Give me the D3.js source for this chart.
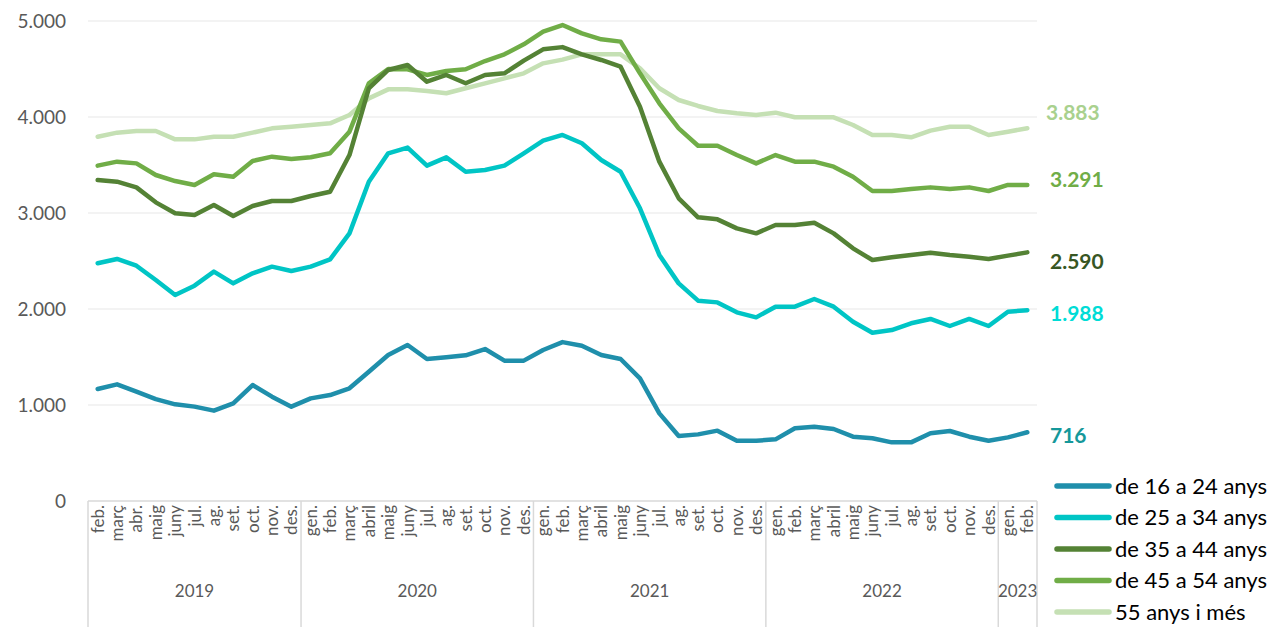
<!DOCTYPE html>
<html lang="ca">
<head>
<meta charset="UTF-8" />
<title>Atur per edats</title>
<script src="https://d3js.org/d3.v7.min.js"></script>
<style>
  body { margin: 0; background: #fff; font-family: Lato, "Open Sans", sans-serif; }
  svg { display: block; }
  .ytick { font-size: 19px; fill: #595959; }
  .month { font-size: 17px; fill: #595959; }
  .year { font-size: 17px; fill: #595959; }
  .endlab { font-size: 21px; font-weight: bold; }
  .legend text { font-size: 22px; fill: #000; }
</style>
</head>
<body>
<svg id="chart" width="1286" height="627"></svg>
<script>
// dades
const years = ["2019", "2020", "2021", "2022", "2023"];
const monthsFull = ["gen.", "feb.", "març", "abril", "maig", "juny", "jul.", "ag.", "set.", "oct.", "nov.", "des."];
const months2019 = ["feb.", "març", "abr.", "maig", "juny", "jul.", "ag.", "set.", "oct.", "nov.", "des."];
const months2023 = ["gen.", "feb."];
const yTicks = [0, 1000, 2000, 3000, 4000, 5000];

const seriesNames = ["de 16 a 24 anys", "de 25 a 34 anys", "de 35 a 44 anys", "de 45 a 54 anys", "55 anys i més"];

const s16_24 = [1167, 1215, 1139, 1062, 1007, 983, 941, 1017, 1208, 1087, 983, 1069,
  1104, 1174, 1347, 1521, 1625, 1479, 1497, 1518, 1583, 1462, 1462, 1573,
  1655, 1618, 1521, 1479, 1278, 913, 677, 694, 733, 628, 628, 642,
  757, 774, 750, 670, 653, 611, 611, 705, 729, 670, 628, 663, 716];
const s25_34 = [2476, 2521, 2451, 2302, 2146, 2243, 2389, 2267, 2372, 2441, 2396, 2441,
  2517, 2788, 3326, 3622, 3681, 3493, 3580, 3430, 3448, 3493, 3622, 3753,
  3813, 3726, 3552, 3430, 3049, 2563, 2267, 2087, 2069, 1965, 1913, 2024,
  2024, 2104, 2024, 1868, 1753, 1781, 1851, 1896, 1823, 1896, 1823, 1972, 1988];
const s35_44 = [3344, 3326, 3267, 3111, 2997, 2979, 3083, 2969, 3073, 3125, 3125, 3177,
  3222, 3604, 4299, 4490, 4542, 4368, 4438, 4351, 4438, 4455, 4587, 4705,
  4728, 4653, 4594, 4524, 4107, 3535, 3153, 2955, 2934, 2840, 2788, 2875,
  2875, 2899, 2788, 2632, 2510, 2538, 2563, 2587, 2563, 2545, 2521, 2556, 2590];
const s45_54 = [3493, 3535, 3517, 3396, 3333, 3292, 3403, 3378, 3542, 3587, 3563, 3580,
  3622, 3847, 4351, 4500, 4497, 4438, 4479, 4497, 4583, 4653, 4757, 4889,
  4958, 4871, 4809, 4785, 4455, 4143, 3882, 3701, 3701, 3604, 3517, 3604,
  3535, 3535, 3483, 3378, 3229, 3229, 3250, 3267, 3250, 3267, 3229, 3292, 3291];
const s55 = [3795, 3837, 3854, 3854, 3767, 3767, 3795, 3795, 3837, 3882, 3899, 3917,
  3934, 4021, 4194, 4288, 4288, 4271, 4247, 4299, 4351, 4403, 4455, 4559,
  4598, 4653, 4653, 4653, 4507, 4299, 4177, 4115, 4063, 4038, 4021, 4045,
  3997, 3997, 3997, 3917, 3813, 3813, 3788, 3858, 3899, 3899, 3813, 3847, 3883];

// categories (mes, any)
const monthsByYear = [months2019, monthsFull, monthsFull, monthsFull, months2023];
const cats = [];
monthsByYear.forEach((ms, yi) => ms.forEach(m => cats.push({ key: years[yi] + "-" + m, month: m, year: years[yi] })));

const seriesData = [s16_24, s25_34, s35_44, s45_54, s55];
const colors = ["#1f8fab", "#00c5c5", "#548235", "#70ad47", "#c5e0b4"];
const labelColors = ["#15989a", "#00dcd6", "#375623", "#70ad47", "#a9d18e"];
const labelDy = [3, 3, 9, -5, -16];

const svg = d3.select("#chart");
const plotLeft = 88, plotRight = 1037, plotTop = 21, plotBottom = 501;

const x = d3.scaleBand().domain(cats.map(d => d.key)).range([plotLeft, plotRight]);
const y = d3.scaleLinear().domain([0, 5000]).range([plotBottom, plotTop]);
const fmt = d3.format(",");
const caFmt = v => fmt(v).replace(/,/g, ".");

// gridlines
svg.append("g").selectAll("line")
  .data(yTicks.filter(d => d > 0))
  .join("line")
  .attr("x1", plotLeft).attr("x2", plotRight)
  .attr("y1", d => y(d)).attr("y2", d => y(d))
  .attr("stroke", "#efefef").attr("stroke-width", 1.3);

// y labels
svg.append("g").selectAll("text")
  .data(yTicks)
  .join("text")
  .attr("class", "ytick")
  .attr("x", 66).attr("y", d => y(d))
  .attr("dy", "0.35em")
  .attr("text-anchor", "end")
  .text(d => caFmt(d));

// x axis base + year separators
const axisColor = "#d9d9d9";
svg.append("line")
  .attr("x1", plotLeft).attr("x2", plotRight)
  .attr("y1", plotBottom).attr("y2", plotBottom)
  .attr("stroke", axisColor).attr("stroke-width", 1.5);

const yearStarts = years.map(yr => cats.findIndex(c => c.year === yr));
const seps = yearStarts.map(i => x(cats[i].key)).concat([plotRight]);
svg.append("g").selectAll("line")
  .data(seps)
  .join("line")
  .attr("x1", d => d).attr("x2", d => d)
  .attr("y1", plotBottom).attr("y2", 627)
  .attr("stroke", axisColor).attr("stroke-width", 1.5);

// month labels
svg.append("g").selectAll("text")
  .data(cats)
  .join("text")
  .attr("class", "month")
  .attr("transform", d => `translate(${x(d.key) + x.bandwidth() / 2 + 6},${plotBottom + 4}) rotate(-90)`)
  .attr("text-anchor", "end")
  .text(d => d.month);

// year labels
svg.append("g").selectAll("text")
  .data(years)
  .join("text")
  .attr("class", "year")
  .attr("x", (d, i) => (seps[i] + seps[i + 1]) / 2)
  .attr("y", 597)
  .attr("text-anchor", "middle")
  .text(d => d);

// lines
const line = d3.line()
  .x((d, i) => x(cats[i].key) + x.bandwidth() / 2)
  .y(d => y(d));

svg.append("g").selectAll("path")
  .data(seriesData.map((v, i) => ({ v, i })).reverse())
  .join("path")
  .attr("d", d => line(d.v))
  .attr("fill", "none")
  .attr("stroke", d => colors[d.i])
  .attr("stroke-width", 4.5)
  .attr("stroke-linejoin", "round")
  .attr("stroke-linecap", "round");

// end labels
svg.append("g").selectAll("text")
  .data(seriesData)
  .join("text")
  .attr("class", "endlab")
  .attr("x", (d, i) => i === 4 ? 1046 : 1050)
  .attr("y", (d, i) => y(d[d.length - 1]) + labelDy[i])
  .attr("dy", "0.35em")
  .attr("fill", (d, i) => labelColors[i])
  .text(d => caFmt(d[d.length - 1]));

// legend
const lg = svg.append("g").attr("class", "legend");
const items = lg.selectAll("g")
  .data(seriesNames)
  .join("g")
  .attr("transform", (d, i) => `translate(1057,${486 + i * 31.5})`);
items.append("line")
  .attr("x1", 0).attr("x2", 52)
  .attr("stroke", (d, i) => colors[i])
  .attr("stroke-width", 5.5)
  .attr("stroke-linecap", "round");
items.append("text")
  .attr("x", 58).attr("dy", "0.35em")
  .text(d => d);
</script>
</body>
</html>
